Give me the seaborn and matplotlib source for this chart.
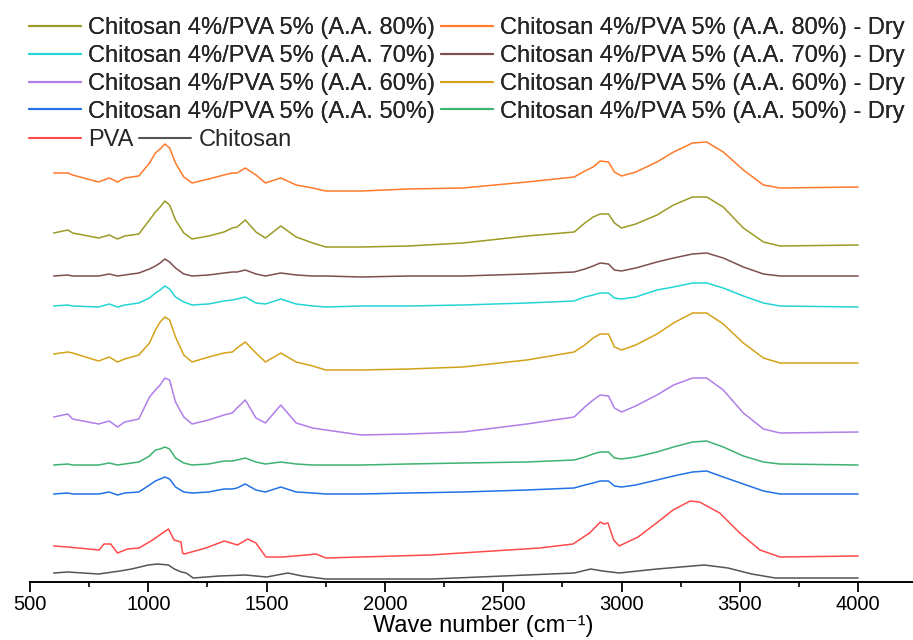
import matplotlib
matplotlib.use("Agg")
import matplotlib.pyplot as plt
import seaborn as sns
import pandas as pd
from matplotlib.lines import Line2D
from matplotlib.ticker import MultipleLocator

# ---- data: stacked (offset) absorbance, arbitrary units ----
wn_blend = [600, 660, 680, 790, 835, 870, 900, 960, 1005, 1030, 1050, 1070, 1090, 1115,
            1150, 1185, 1255, 1320, 1355, 1375, 1410, 1455, 1495, 1560, 1625, 1695, 1750,
            1900, 2100, 2330, 2600, 2800, 2845, 2880, 2910, 2945, 2970, 3000, 3060, 3150,
            3220, 3300, 3360, 3430, 3515, 3600, 3670, 4000]

aa80_dry = [405, 405, 403, 396, 400, 396, 400, 402, 415, 425, 429, 434, 430, 415,
            401, 395, 399, 403, 405, 405, 410, 403, 395, 400, 393, 390, 387,
            387, 389, 390, 396, 401, 407, 411, 417, 416, 406, 402, 406, 416,
            426, 435, 436, 426, 408, 393, 390, 391]
aa80 = [345, 348, 345, 340, 343, 339, 342, 344, 358, 366, 371, 377, 373, 358,
        345, 339, 342, 346, 350, 351, 358, 346, 340, 352, 341, 335, 331,
        331, 332, 335, 342, 346, 355, 361, 364, 364, 355, 350, 354, 363,
        373, 381, 381, 371, 350, 336, 332, 333]
aa70_dry = [302, 303, 302, 302, 304, 302, 303, 305, 309, 312, 315, 319, 316, 310,
            304, 302, 303, 305, 306, 306, 308, 304, 302, 305, 303, 302, 302,
            301, 302, 302, 304, 306, 309, 312, 315, 314, 308, 307, 310, 316,
            320, 324, 325, 320, 311, 304, 302, 302]
aa70 = [272, 273, 272, 271, 274, 271, 273, 275, 280, 285, 288, 292, 289, 281,
        276, 273, 274, 277, 278, 279, 281, 275, 274, 279, 274, 272, 271,
        272, 272, 273, 275, 277, 281, 283, 285, 285, 280, 279, 281, 288,
        291, 295, 295, 290, 282, 275, 272, 271]
aa60_dry = [224, 226, 225, 217, 221, 216, 219, 223, 235, 248, 256, 261, 258, 241,
            223, 216, 221, 225, 226, 230, 236, 225, 216, 225, 216, 212, 208,
            208, 209, 211, 218, 226, 233, 240, 244, 244, 231, 228, 233, 244,
            255, 265, 265, 254, 235, 220, 215, 215]
aa60 = [161, 164, 159, 154, 157, 151, 156, 159, 181, 188, 193, 200, 198, 176,
        161, 154, 158, 163, 165, 170, 178, 160, 155, 173, 155, 150, 148,
        143, 144, 146, 154, 161, 171, 178, 183, 182, 170, 166, 172, 183,
        193, 200, 200, 188, 165, 149, 145, 146]
aa50_dry = [113, 114, 113, 113, 115, 113, 114, 116, 122, 128, 129, 131, 129, 120,
            115, 113, 114, 117, 117, 118, 120, 116, 114, 116, 114, 113, 113,
            113, 114, 115, 116, 118, 121, 124, 126, 126, 120, 119, 121, 126,
            131, 136, 137, 131, 122, 116, 114, 113]
aa50 = [84, 85, 84, 84, 86, 83, 85, 86, 93, 97, 99, 101, 99, 91,
        86, 85, 86, 89, 89, 90, 94, 88, 86, 91, 86, 85, 84,
        84, 85, 86, 88, 90, 93, 95, 97, 97, 92, 91, 93, 98,
        102, 106, 107, 101, 94, 87, 84, 84]

wn_pva = [600, 660, 792, 813, 841, 870, 912, 961, 1018, 1085, 1109, 1138, 1145, 1152,
          1243, 1321, 1377, 1420, 1455, 1497, 1568, 1667, 1709, 1751, 2190, 2654, 2795,
          2865, 2890, 2911, 2925, 2943, 2967, 2990, 3070, 3148, 3218, 3290, 3330, 3415,
          3500, 3585, 3670, 4000]
pva = [32, 31, 28, 34, 34, 25, 29, 30, 38, 49, 38, 36, 25, 24,
       30, 37, 33, 39, 35, 21, 21, 23, 24, 20, 23, 30, 34,
       45, 51, 56, 54, 55, 38, 32, 41, 55, 68, 77, 76, 65,
       45, 28, 21, 22]

wn_chitosan = [600, 660, 790, 880, 930, 1000, 1040, 1085, 1110, 1140, 1160, 1190, 1300,
               1410, 1500, 1590, 1650, 1750, 2200, 2500, 2800, 2870, 2920, 2990, 3150,
               3350, 3450, 3550, 3650, 4000]
chitosan = [5, 6, 4, 7, 9, 13, 14, 13, 9, 6, 5, 0, 2,
            3, 1, 5, 2, -1, -1, 2, 5, 9, 7, 5, 9,
            13, 10, 4, 0, 0]

labels = ["Chitosan 4%/PVA 5% (A.A. 80%) - Dry", "Chitosan 4%/PVA 5% (A.A. 80%)",
          "Chitosan 4%/PVA 5% (A.A. 70%) - Dry", "Chitosan 4%/PVA 5% (A.A. 70%)",
          "Chitosan 4%/PVA 5% (A.A. 60%) - Dry", "Chitosan 4%/PVA 5% (A.A. 60%)",
          "Chitosan 4%/PVA 5% (A.A. 50%) - Dry", "Chitosan 4%/PVA 5% (A.A. 50%)",
          "PVA", "Chitosan"]
colors = ["#ff7a2a", "#9b9b25", "#7d4f4f", "#25d4d4", "#d4a21a", "#b07ee8",
          "#3cb371", "#2272e6", "#ff4a4a", "#555555"]

series = [(wn_blend, aa80_dry), (wn_blend, aa80), (wn_blend, aa70_dry), (wn_blend, aa70),
          (wn_blend, aa60_dry), (wn_blend, aa60), (wn_blend, aa50_dry), (wn_blend, aa50),
          (wn_pva, pva), (wn_chitosan, chitosan)]

frames = []
for lab, (x, y) in zip(labels, series):
    frames.append(pd.DataFrame({"wn": x, "A": y, "sample": lab}))
df = pd.concat(frames, ignore_index=True)

sns.set_theme(style="white")
plt.rcParams["font.family"] = ["Liberation Sans", "DejaVu Sans"]

fig = plt.figure(figsize=(9.13, 6.40), dpi=100)
ax = fig.add_axes([30 / 913, 58 / 640, 883 / 913, 482 / 640])

palette = dict(zip(labels, colors))
sns.lineplot(data=df, x="wn", y="A", hue="sample", hue_order=labels, palette=palette,
             estimator=None, sort=False, legend=False, linewidth=1.1, ax=ax)

ax.set_xlim(500, 4232)
ax.set_ylim(-4, 478)
ax.set_yticks([])
ax.set_ylabel("")
for s in ["left", "top", "right"]:
    ax.spines[s].set_visible(False)
ax.spines["bottom"].set_color("black")
ax.spines["bottom"].set_linewidth(1.4)
ax.xaxis.set_major_locator(MultipleLocator(500))
ax.xaxis.set_minor_locator(MultipleLocator(250))
ax.set_xticks([500, 1000, 1500, 2000, 2500, 3000, 3500, 4000])
ax.tick_params(axis="x", which="major", direction="out", length=7, width=1.3,
               colors="black", labelsize=14.5, pad=2.5, bottom=True)
ax.tick_params(axis="x", which="minor", direction="out", length=3.5, width=1.2,
               colors="black", bottom=True)
ax.set_xlabel("Wave number (cm\u207b\u00b9)", fontsize=17, color="black", va="center")
ax.xaxis.set_label_coords(453 / 883, (582 - 626) / 482)

def h(i):
    return Line2D([0], [0], color=colors[i], lw=1.5)

order1 = [1, 3, 5, 7, 0, 2, 4, 6]
leg1 = fig.legend([h(i) for i in order1], [labels[i] for i in order1], ncol=2,
                  loc="upper left", bbox_to_anchor=(29 / 913, 1 - 17 / 640),
                  frameon=False, fontsize=17, handlelength=2.2, handletextpad=0.3,
                  columnspacing=0.25, labelspacing=0.25, borderpad=0, borderaxespad=0)
leg2 = fig.legend([h(8), h(9)], [labels[8], labels[9]], ncol=2,
                  loc="upper left", bbox_to_anchor=(29 / 913, 1 - 129 / 640),
                  frameon=False, fontsize=17, handlelength=2.2, handletextpad=0.3,
                  columnspacing=0.25, borderpad=0, borderaxespad=0)
fig.add_artist(leg1)

fig.savefig("out.png", dpi=100)
